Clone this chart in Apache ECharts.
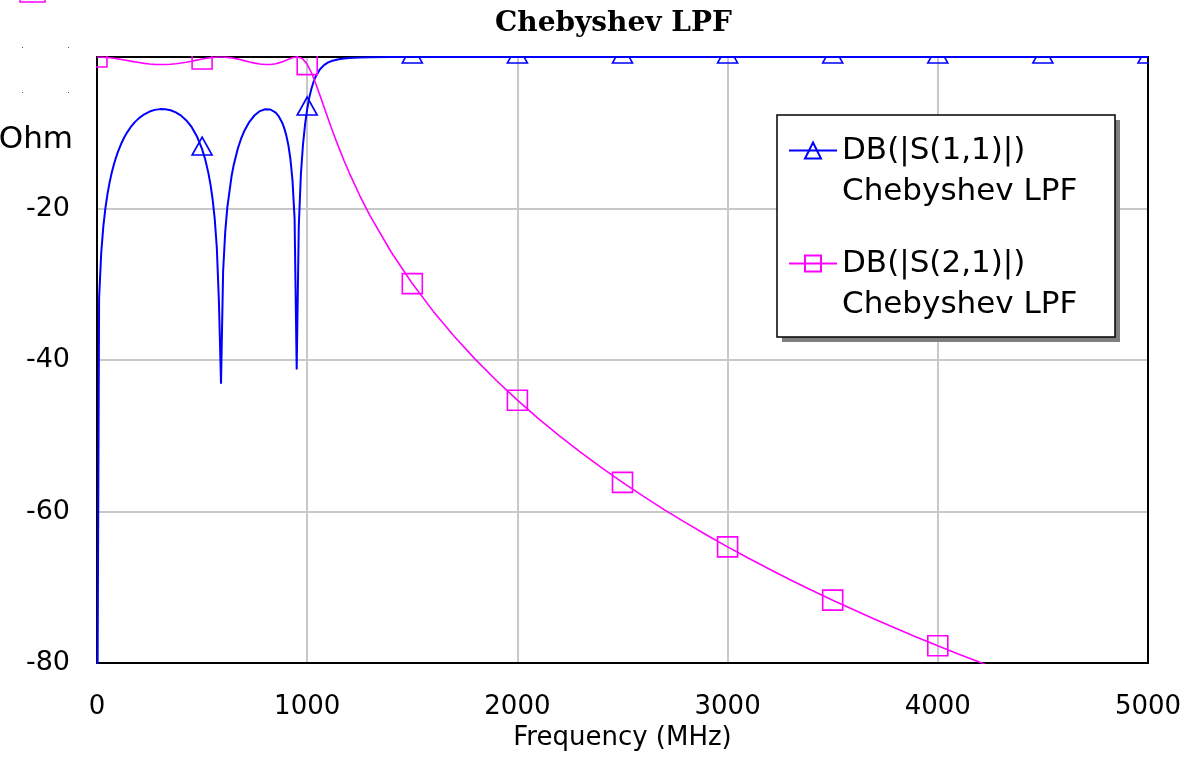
<!DOCTYPE html>
<html>
<head>
<meta charset="utf-8">
<script src="https://cdn.jsdelivr.net/npm/echarts@6/dist/echarts.min.js"></script>
<style>html,body{margin:0;padding:0;background:#fff;}#chart{width:1203px;height:767px;}</style>
</head>
<body>
<div id="chart"></div>
<script>
// Frequency samples (MHz)
const freqMHz = [0,10,20,30,40,50,60,70,80,90,
 100,115,130,145,160,180,200,225,250,275,
 300,325,350,375,400,425,450,475,500,515,
 530,540,550,560,570,580,590,600,610,620,
 640,650,670,685,700,725,750,775,800,825,
 850,865,880,890,900,910,920,930,940,950,
 960,970,980,990,1000,1010,1020,1030,1040,1060,
 1080,1100,1120,1150,1175,1200,1250,1300,1400,1500,
 1600,1700,1800,1900,2000,2100,2200,2300,2400,2500,
 2600,2700,2800,2900,3000,3100,3200,3300,3400,3500,
 3600,3700,3800,3900,4000,4100,4200,4300,4400,4500,
 4600,4700,4800,4900,5000];
// DB(|S(1,1)|)
const s11dB = [-100,-31.89,-25.89,-22.40,-19.95,-18.07,-16.55,-15.29,-14.22,-13.30,
 -12.49,-11.46,-10.60,-9.88,-9.27,-8.60,-8.07,-7.56,-7.20,-6.98,
 -6.88,-6.89,-7.03,-7.31,-7.74,-8.37,-9.24,-10.45,-12.16,-13.54,
 -15.33,-16.85,-18.78,-21.35,-25.15,-32.26,-43.13,-28.28,-23.08,-19.86,
 -15.75,-14.30,-12.08,-10.82,-9.81,-8.55,-7.69,-7.14,-6.89,-6.93,
 -7.35,-7.85,-8.61,-9.32,-10.28,-11.58,-13.43,-16.25,-21.33,-41.26,
 -22.30,-15.46,-11.55,-8.86,-6.87,-5.36,-4.19,-3.30,-2.60,-1.65,
 -1.07,-0.71,-0.49,-0.29,-0.19,-0.13,-0.06,-0.03,-0.01,0,
 0,0,0,0,0,0,0,0,0,0,
 0,0,0,0,0,0,0,0,0,0,
 0,0,0,0,0,0,0,0,0,0,
 0,0,0,0,0];
// DB(|S(2,1)|)
const s21dB = [0,-0.003,-0.011,-0.025,-0.044,-0.068,-0.097,-0.130,-0.168,-0.208,
 -0.252,-0.322,-0.395,-0.471,-0.547,-0.645,-0.737,-0.838,-0.918,-0.972,
 -0.998,-0.994,-0.958,-0.893,-0.800,-0.684,-0.551,-0.410,-0.272,-0.197,
 -0.129,-0.091,-0.058,-0.032,-0.013,-0.003,0,-0.006,-0.021,-0.045,
 -0.117,-0.164,-0.278,-0.375,-0.479,-0.653,-0.811,-0.932,-0.995,-0.983,
 -0.883,-0.779,-0.644,-0.540,-0.428,-0.313,-0.202,-0.104,-0.032,0,
 -0.026,-0.125,-0.315,-0.605,-1.000,-1.496,-2.082,-2.742,-3.460,-5.003,
 -6.603,-8.191,-9.736,-11.937,-13.660,-15.288,-18.287,-21.002,-25.778,-29.914,
 -33.583,-36.893,-39.919,-42.711,-45.306,-47.734,-50.016,-52.172,-54.214,-56.156,
 -58.008,-59.778,-61.474,-63.101,-64.666,-66.174,-67.628,-69.032,-70.391,-71.706,
 -72.981,-74.219,-75.420,-76.589,-77.725,-78.832,-79.910,-80.962,null,null,
 null,null,null,null,null];
const markerMHz = [0,500,1000,1500,2000,2500,3000,3500,4000,4500,5000];
const xTicks = [0,1000,2000,3000,4000,5000];
const yTicks = [-80,-60,-40,-20,0];
const seriesNames = ['DB(|S(1,1)|)','DB(|S(2,1)|)'];
const docName = 'Chebyshev LPF';

const BLUE = '#0000ff', MAG = '#ff00ff';
const FONT = 'DejaVu Sans';

function buildData(vals, sym) {
  const out = [];
  freqMHz.forEach((f, i) => {
    const v = vals[i];
    if (v === null) return;
    const mark = markerMHz.indexOf(f) >= 0 && v >= -80;
    out.push({ value: [f, v], symbol: mark ? sym : 'none' });
  });
  return out;
}

const G = { left: 97, top: 57, right: 1148, bottom: 663 };
const W = 1203, H = 767;

const chart = echarts.init(document.getElementById('chart'), null, { renderer: 'canvas' });
chart.setOption({
  animation: false,
  backgroundColor: '#fff',
  title: {
    text: docName, left: 495, top: 10, padding: 0, z: 20,
    textStyle: { fontFamily: 'DejaVu Serif', fontWeight: 'bold', fontSize: 28, color: '#000' }
  },
  grid: {
    left: G.left, top: G.top, width: G.right - G.left, height: G.bottom - G.top,
    show: false
  },
  legend: {
    orient: 'vertical', left: 788, top: 94, padding: 0, itemGap: 0,
    itemWidth: 48, itemHeight: 20, selectedMode: false, z: 30,
    data: seriesNames,
    formatter: function (name) { return '{e| }\n{a|' + name + '}\n{b|' + docName + '}'; },
    textStyle: {
      fontFamily: FONT, fontSize: 31, color: '#000',
      rich: {
        e: { fontFamily: FONT, fontSize: 31, lineHeight: 28, color: '#000' },
        a: { fontFamily: FONT, fontSize: 31, lineHeight: 54, color: '#000' },
        b: { fontFamily: FONT, fontSize: 31, lineHeight: 28, color: '#000' }
      }
    }
  },
  xAxis: [
    { type: 'value', gridIndex: 0, min: 0, max: 5000, interval: 1000, z: 0,
      axisLine: { show: false }, axisTick: { show: false }, axisLabel: { show: false },
      splitLine: { show: true, lineStyle: { color: '#c8c8c8', width: 2 } } },
    { type: 'value', gridIndex: 0, position: 'bottom', min: 0, max: 5000, interval: 1000, z: 10,
      axisLine: { show: false }, axisTick: { show: false }, splitLine: { show: false },
      axisLabel: { margin: 31, fontFamily: FONT, fontSize: 26, color: '#000',
        formatter: function (v) { return xTicks.indexOf(v) >= 0 ? String(v) : ''; } },
      name: 'Frequency (MHz)', nameLocation: 'middle', nameGap: 62,
      nameTextStyle: { fontFamily: FONT, fontSize: 26, color: '#000' } }
  ],
  yAxis: [
    { type: 'value', gridIndex: 0, min: -80, max: 0, interval: 20, z: 0,
      axisLine: { show: false }, axisTick: { show: false }, axisLabel: { show: false },
      splitLine: { show: true, lineStyle: { color: '#c8c8c8', width: 2 } } },
    { type: 'value', gridIndex: 0, position: 'left', min: -80, max: 0, interval: 20, z: 10,
      axisLine: { show: false }, axisTick: { show: false }, splitLine: { show: false },
      axisLabel: { margin: 27, fontFamily: FONT, fontSize: 27, color: '#000',
        formatter: function (v) { return yTicks.indexOf(v) >= 0 && v !== 0 ? String(v) : ''; } } }
  ],
  series: [
    { name: seriesNames[0], type: 'line', xAxisIndex: 0, yAxisIndex: 0, z: 2,
      symbol: 'triangle', symbolSize: [20, 18], symbolOffset: [0, -3], clip: true,
      lineStyle: { color: BLUE, width: 2 },
      itemStyle: { color: 'rgba(0,0,0,0)', borderColor: BLUE, borderWidth: 1.6 },
      emphasis: { disabled: true },
      data: buildData(s11dB, 'triangle') },
    { name: seriesNames[1], type: 'line', xAxisIndex: 0, yAxisIndex: 0, z: 2,
      symbol: 'rect', symbolSize: 20, clip: true,
      lineStyle: { color: MAG, width: 1.6 },
      itemStyle: { color: 'rgba(0,0,0,0)', borderColor: MAG, borderWidth: 1.6 },
      emphasis: { disabled: true },
      data: buildData(s21dB, 'rect') }
  ],
  graphic: [
    // plot frame (under the curves, above the grid lines)
    { type: 'rect', z: 1, silent: true, shape: { x: G.left, y: G.top, width: G.right - G.left, height: G.bottom - G.top }, style: { fill: 'none', stroke: '#000', lineWidth: 2 } },
    // masks outside the plot so that markers are clipped at the frame
    { type: 'rect', z: 5, silent: true, shape: { x: 0, y: 0, width: W, height: G.top - 1 }, style: { fill: '#fff' } },
    { type: 'rect', z: 5, silent: true, shape: { x: 0, y: 0, width: G.left - 1, height: H }, style: { fill: '#fff' } },
    { type: 'rect', z: 5, silent: true, shape: { x: G.right + 1, y: 0, width: W - G.right, height: H }, style: { fill: '#fff' } },
    { type: 'rect', z: 5, silent: true, shape: { x: 0, y: G.bottom + 1, width: W, height: H - G.bottom }, style: { fill: '#fff' } },
    // legend box with shadow
    { type: 'rect', z: 19, silent: true, shape: { x: 782, y: 120, width: 338, height: 222 }, style: { fill: '#7f7f7f' } },
    { type: 'rect', z: 20, silent: true, shape: { x: 777, y: 115, width: 338, height: 222 }, style: { fill: '#fff', stroke: '#000', lineWidth: 1.5 } },
    // clipped pieces of the surrounding window
    { type: 'text', z: 20, silent: true, style: { text: 'Ohm', x: 73, y: 140, align: 'right', verticalAlign: 'middle', fontFamily: FONT, fontSize: 31, fill: '#000' } },
    { type: 'rect', z: 20, silent: true, shape: { x: 20, y: -20, width: 25, height: 22 }, style: { fill: 'none', stroke: MAG, lineWidth: 1.5 } },
    { type: 'rect', z: 20, silent: true, shape: { x: 22, y: 47, width: 1, height: 1 }, style: { fill: '#555' } },
    { type: 'rect', z: 20, silent: true, shape: { x: 68, y: 47, width: 1, height: 1 }, style: { fill: '#555' } },
    { type: 'rect', z: 20, silent: true, shape: { x: 22, y: 92, width: 1, height: 1 }, style: { fill: '#555' } },
    { type: 'rect', z: 20, silent: true, shape: { x: 68, y: 92, width: 1, height: 1 }, style: { fill: '#555' } }
  ]
});
</script>
</body>
</html>
